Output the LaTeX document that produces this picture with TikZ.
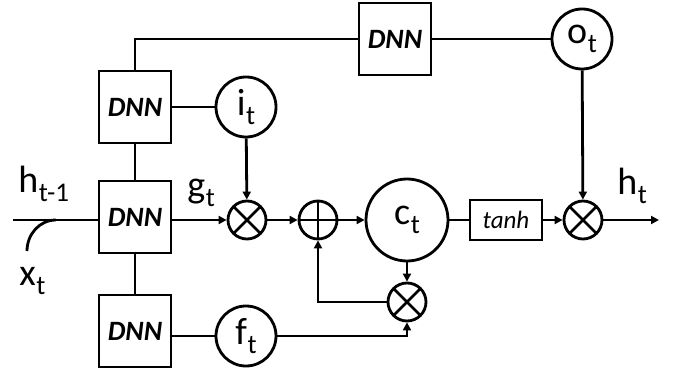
\documentclass[tikz,border=0pt]{standalone}
\usepackage{fontspec}
\setmainfont{Carlito}
\usetikzlibrary{arrows.meta,calc}
\newcommand{\sbl}[2]{{\fontsize{38}{38}\selectfont #1}\kern0.5pt\raisebox{-9pt}{\fontsize{27}{27}\selectfont #2}}
\begin{document}
\begin{tikzpicture}[x=1pt,y=-1pt,line width=2.8pt,
  dnnbox/.style={draw,rectangle,minimum width=72pt,minimum height=72pt,inner sep=0pt,font=\fontsize{28}{28}\selectfont\bfseries\itshape},
  gate/.style={draw,circle,minimum size=60pt,inner sep=0pt},
  opx/.style={draw,circle,minimum size=38pt,inner sep=0pt,
    path picture={\draw[line width=2.8pt] (path picture bounding box.north west) -- (path picture bounding box.south east)
      (path picture bounding box.north east) -- (path picture bounding box.south west);}},
  opp/.style={draw,circle,minimum size=38pt,inner sep=0pt,
    path picture={\draw[line width=2.8pt] (path picture bounding box.north) -- (path picture bounding box.south)
      (path picture bounding box.east) -- (path picture bounding box.west);}},
  arr/.style={-{Triangle[length=8pt,width=8pt]}},
  lbl/.style={anchor=base west,inner sep=0pt}]
\useasboundingbox (0,0) rectangle (686,377);
% nodes
\node[dnnbox] (dnnI) at (135,107) {DNN};
\node[dnnbox] (dnnG) at (135,217) {DNN};
\node[dnnbox] (dnnF) at (135,331) {DNN};
\node[dnnbox] (dnnO) at (395,39) {DNN};
\node[gate] (iT) at (246,107) {\sbl{i}{t}};
\node[gate] (oT) at (582,39) {\sbl{o}{t}};
\node[gate] (fT) at (246,336) {\sbl{f}{t}};
\node[opx] (m1) at (247,220) {};
\node[opp] (plus) at (318,220) {};
\node[draw,circle,minimum size=82pt,inner sep=0pt] (cT) at (407,220) {\sbl{c}{t}};
\node[opx] (m2) at (407,302) {};
\node[draw,rectangle,minimum width=72pt,minimum height=40pt,inner sep=0pt,font=\fontsize{25}{25}\selectfont\itshape] (tanh) at (506,220) {tanh};
\node[opx] (m3) at (583,220) {};
\coordinate (in) at (13,220);
\coordinate (out) at (659,220);
\coordinate (xs) at (27,251);
\coordinate (xe) at (56,220);
% labels
\node[lbl] (lh) at (17,193) {\sbl{h}{t-1}};
\node[lbl] (lx) at (18,285) {\sbl{x}{t}};
\node[lbl] (lg) at (186,198) {\sbl{g}{t}};
\node[lbl] (lht) at (616,195) {\sbl{h}{t}};
% connectors
\draw (in) -- (in -| dnnG.west);
\draw (xs) to[out=90,in=180] (xe);
\draw[arr] (dnnG.east |- m1) -- (m1);
\draw (dnnI) -- (dnnG);
\draw (dnnG) -- (dnnF);
\draw (dnnI.north) |- (dnnO.west);
\draw (dnnO) -- (oT);
\draw (dnnI) -- (iT);
\draw[arr] (iT) -- (m1);
\draw[arr] (m1) -- (plus);
\draw[arr] (plus) -- (cT);
\draw (cT) -- (tanh);
\draw[arr] (tanh) -- (m3);
\draw[arr] (oT) -- (m3);
\draw[arr] (m3) -- (out);
\draw[arr] (cT) -- (m2);
\draw[arr] (m2.west) -| (plus.south);
\draw (dnnF.east |- fT) -- (fT);
\draw[arr] (fT) -| (m2.south);
\end{tikzpicture}
\end{document}
